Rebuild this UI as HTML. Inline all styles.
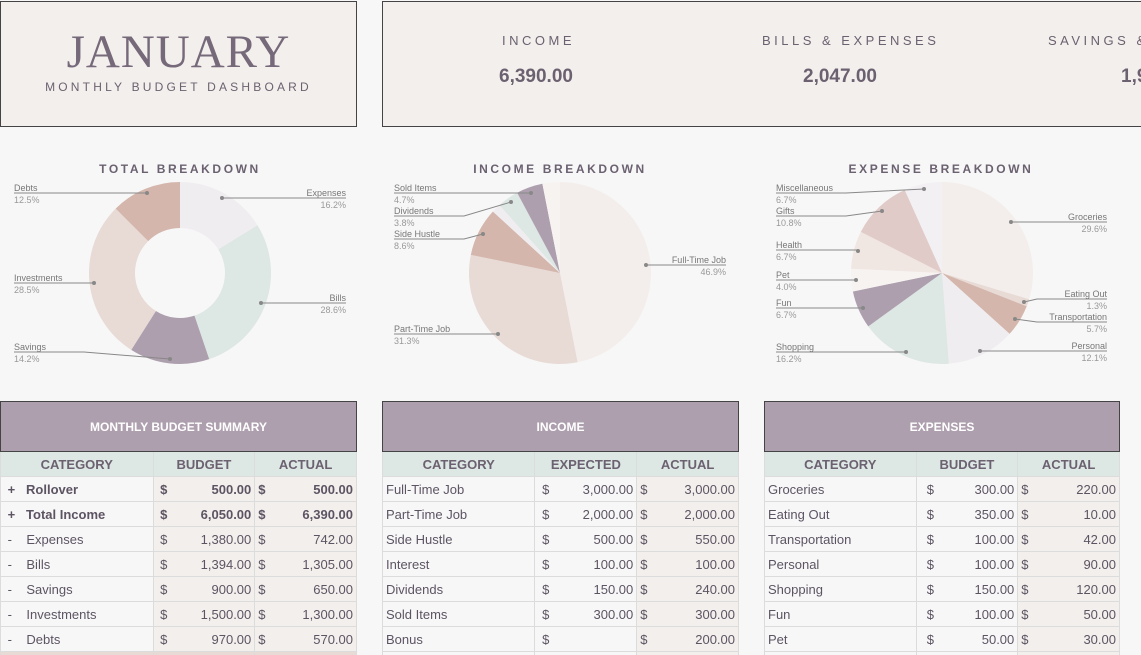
<!DOCTYPE html>
<html><head><meta charset="utf-8">
<style>
*{box-sizing:border-box;margin:0;padding:0}
html,body{overflow:hidden}
body{width:1141px;height:655px;background:#f7f7f7;font-family:"Liberation Sans",sans-serif;position:relative;overflow:hidden;color:#6b6170}
.box{position:absolute;background:#f3efec;border:1px solid #444}
.t{position:absolute;white-space:nowrap}
.lab{font-size:13px;letter-spacing:3.5px;color:#6b6170}
.val{font-size:19px;font-weight:bold;color:#6b6170}
.ttl{position:absolute;font-size:12px;font-weight:bold;letter-spacing:2.6px;color:#6b6170;text-align:center}
table{position:absolute;border-collapse:collapse;font-size:13px;color:#5d5463}
td{height:25px;border:1px solid #dcdcdc;padding:0 3px}
.hd td{background:#ae9fae;color:#fff;font-weight:bold;text-align:center;height:50px;border:1px solid #444;font-size:12px}
.ch td{background:#dde7e3;font-weight:bold;text-align:center;color:#6b6170}
.tin{background:#f3efec}
.d{display:flex;justify-content:space-between}
.wrap{position:absolute;border-left:1px solid #444;border-right:1px solid #444}
#clip{position:absolute;left:0;top:0;width:1141px;height:655px;overflow:hidden}
</style></head><body><div id="clip">
<div class="box" style="left:0;top:1px;width:357px;height:126px"></div>
<div class="t" style="left:0;width:357px;top:25px;text-align:center;font-family:'Liberation Serif',serif;font-size:47px;color:#75697a;letter-spacing:1px">JANUARY</div>
<div class="t lab" style="left:0;width:357px;top:80px;text-align:center;font-size:12px;letter-spacing:3.2px">MONTHLY BUDGET DASHBOARD</div>
<div class="box" style="left:382px;top:1px;width:764px;height:126px"></div>
<div class="t lab" style="left:502px;top:33px">INCOME</div>
<div class="t val" style="left:499px;top:66px">6,390.00</div>
<div class="t lab" style="left:762px;top:33px">BILLS &amp; EXPENSES</div>
<div class="t val" style="left:803px;top:66px">2,047.00</div>
<div class="t lab" style="left:1048px;top:33px">SAVINGS &amp;</div>
<div class="t val" style="left:1121px;top:66px">1,9</div>

<div class="ttl" style="left:0;width:360px;top:162px">TOTAL BREAKDOWN</div>
<div class="ttl" style="left:380px;width:360px;top:162px">INCOME BREAKDOWN</div>
<div class="ttl" style="left:760px;width:362px;top:162px">EXPENSE BREAKDOWN</div>

<svg id="s" width="1141" height="400" style="position:absolute;left:0;top:0" font-family="Liberation Sans, sans-serif" font-size="9" fill="#888"></svg>

<div class="wrap" style="left:0;top:401px;width:357px;height:260px"></div>
<table style="left:0;top:401px;width:357px">
<colgroup><col style="width:153px"><col style="width:102px"><col style="width:102px"></colgroup>
<tr class="hd"><td colspan="3">MONTHLY BUDGET SUMMARY</td></tr>
<tr class="ch"><td>CATEGORY</td><td>BUDGET</td><td>ACTUAL</td></tr>
<tr style="font-weight:bold"><td>&nbsp;+&nbsp;&nbsp;&nbsp;Rollover</td><td class="tin"><div class="d"><span>&nbsp;$</span><span>500.00</span></div></td><td class="tin"><div class="d"><span>$</span><span>500.00</span></div></td></tr>
<tr style="font-weight:bold"><td>&nbsp;+&nbsp;&nbsp;&nbsp;Total Income</td><td class="tin"><div class="d"><span>&nbsp;$</span><span>6,050.00</span></div></td><td class="tin"><div class="d"><span>$</span><span>6,390.00</span></div></td></tr>
<tr><td>&nbsp;-&nbsp;&nbsp;&nbsp;&nbsp;Expenses</td><td class="tin"><div class="d"><span>&nbsp;$</span><span>1,380.00</span></div></td><td class="tin"><div class="d"><span>$</span><span>742.00</span></div></td></tr>
<tr><td>&nbsp;-&nbsp;&nbsp;&nbsp;&nbsp;Bills</td><td class="tin"><div class="d"><span>&nbsp;$</span><span>1,394.00</span></div></td><td class="tin"><div class="d"><span>$</span><span>1,305.00</span></div></td></tr>
<tr><td>&nbsp;-&nbsp;&nbsp;&nbsp;&nbsp;Savings</td><td class="tin"><div class="d"><span>&nbsp;$</span><span>900.00</span></div></td><td class="tin"><div class="d"><span>$</span><span>650.00</span></div></td></tr>
<tr><td>&nbsp;-&nbsp;&nbsp;&nbsp;&nbsp;Investments</td><td class="tin"><div class="d"><span>&nbsp;$</span><span>1,500.00</span></div></td><td class="tin"><div class="d"><span>$</span><span>1,300.00</span></div></td></tr>
<tr><td>&nbsp;-&nbsp;&nbsp;&nbsp;&nbsp;Debts</td><td class="tin"><div class="d"><span>&nbsp;$</span><span>970.00</span></div></td><td class="tin"><div class="d"><span>$</span><span>570.00</span></div></td></tr>
<tr><td style="background:#e8dad5"></td><td style="background:#e8dad5"></td><td style="background:#e8dad5"></td></tr>
</table>

<div class="wrap" style="left:382px;top:401px;width:357px;height:260px"></div>
<table style="left:382px;top:401px;width:357px">
<colgroup><col style="width:153px"><col style="width:102px"><col style="width:102px"></colgroup>
<tr class="hd"><td colspan="3">INCOME</td></tr>
<tr class="ch"><td>CATEGORY</td><td>EXPECTED</td><td>ACTUAL</td></tr>
<tr><td>Full-Time Job</td><td><div class="d"><span>&nbsp;$</span><span>3,000.00</span></div></td><td class="tin"><div class="d"><span>$</span><span>3,000.00</span></div></td></tr>
<tr><td>Part-Time Job</td><td><div class="d"><span>&nbsp;$</span><span>2,000.00</span></div></td><td class="tin"><div class="d"><span>$</span><span>2,000.00</span></div></td></tr>
<tr><td>Side Hustle</td><td><div class="d"><span>&nbsp;$</span><span>500.00</span></div></td><td class="tin"><div class="d"><span>$</span><span>550.00</span></div></td></tr>
<tr><td>Interest</td><td><div class="d"><span>&nbsp;$</span><span>100.00</span></div></td><td class="tin"><div class="d"><span>$</span><span>100.00</span></div></td></tr>
<tr><td>Dividends</td><td><div class="d"><span>&nbsp;$</span><span>150.00</span></div></td><td class="tin"><div class="d"><span>$</span><span>240.00</span></div></td></tr>
<tr><td>Sold Items</td><td><div class="d"><span>&nbsp;$</span><span>300.00</span></div></td><td class="tin"><div class="d"><span>$</span><span>300.00</span></div></td></tr>
<tr><td>Bonus</td><td><div class="d"><span>&nbsp;$</span><span></span></div></td><td class="tin"><div class="d"><span>$</span><span>200.00</span></div></td></tr>
<tr><td></td><td></td><td class="tin"></td></tr>
</table>

<div class="wrap" style="left:764px;top:401px;width:356px;height:260px"></div>
<table style="left:764px;top:401px;width:356px">
<colgroup><col style="width:152px"><col style="width:102px"><col style="width:102px"></colgroup>
<tr class="hd"><td colspan="3">EXPENSES</td></tr>
<tr class="ch"><td>CATEGORY</td><td>BUDGET</td><td>ACTUAL</td></tr>
<tr><td>Groceries</td><td><div class="d"><span>&nbsp;&nbsp;$</span><span>300.00</span></div></td><td class="tin"><div class="d"><span>$</span><span>220.00</span></div></td></tr>
<tr><td>Eating Out</td><td><div class="d"><span>&nbsp;&nbsp;$</span><span>350.00</span></div></td><td class="tin"><div class="d"><span>$</span><span>10.00</span></div></td></tr>
<tr><td>Transportation</td><td><div class="d"><span>&nbsp;&nbsp;$</span><span>100.00</span></div></td><td class="tin"><div class="d"><span>$</span><span>42.00</span></div></td></tr>
<tr><td>Personal</td><td><div class="d"><span>&nbsp;&nbsp;$</span><span>100.00</span></div></td><td class="tin"><div class="d"><span>$</span><span>90.00</span></div></td></tr>
<tr><td>Shopping</td><td><div class="d"><span>&nbsp;&nbsp;$</span><span>150.00</span></div></td><td class="tin"><div class="d"><span>$</span><span>120.00</span></div></td></tr>
<tr><td>Fun</td><td><div class="d"><span>&nbsp;&nbsp;$</span><span>100.00</span></div></td><td class="tin"><div class="d"><span>$</span><span>50.00</span></div></td></tr>
<tr><td>Pet</td><td><div class="d"><span>&nbsp;&nbsp;$</span><span>50.00</span></div></td><td class="tin"><div class="d"><span>$</span><span>30.00</span></div></td></tr>
<tr><td></td><td></td><td class="tin"></td></tr>
</table>
</div>
<script>
var s=document.getElementById('s'),h='';
function pie(cx,cy,r,ri,d){var a=0,t=d.reduce(function(x,y){return x+y[0]},0);
d.forEach(function(p){var a0=a/t*2*Math.PI,a1=(a+p[0])/t*2*Math.PI;a+=p[0];
var x0=cx+r*Math.sin(a0),y0=cy-r*Math.cos(a0),x1=cx+r*Math.sin(a1),y1=cy-r*Math.cos(a1),L=(a1-a0)>Math.PI?1:0;
var path='M'+(cx+ri*Math.sin(a0))+' '+(cy-ri*Math.cos(a0))+'L'+x0+' '+y0+'A'+r+' '+r+' 0 '+L+' 1 '+x1+' '+y1;
if(ri>0)path+='L'+(cx+ri*Math.sin(a1))+' '+(cy-ri*Math.cos(a1))+'A'+ri+' '+ri+' 0 '+L+' 0 '+(cx+ri*Math.sin(a0))+' '+(cy-ri*Math.cos(a0));
path+='Z';h+='<path d="'+path+'" fill="'+p[1]+'"/>';});}
pie(180,273,91,45,[[16.2,'#f0edf0'],[28.6,'#dde7e3'],[14.2,'#ad9fae'],[28.5,'#e8dad5'],[12.5,'#d4b6ac']]);
pie(560,273,91,0,[[46.9,'#f3eeeb'],[31.3,'#e8dad5'],[8.6,'#d4b6ac'],[1.6,'#f0edf0'],[3.8,'#dde7e3'],[4.7,'#ad9fae'],[3.1,'#f7f3f1']]);
pie(942,273,91,0,[[29.6,'#f3eeeb'],[1.3,'#e8dad5'],[5.7,'#d4b6ac'],[12.1,'#f0edf0'],[16.2,'#dde7e3'],[6.7,'#ad9fae'],[4.0,'#f7f3f1'],[6.7,'#f0e6e2'],[10.8,'#e0cbc8'],[6.7,'#f3f0f3']]);
function lab(side,x,y,name,pct,px,py,x2){
 var anc=side=='L'?'start':'end';
 var ex=side=='L'?x+(x2||0):x-(x2||0);
 h+='<path d="M'+x+' '+y+'L'+ex+' '+y+'L'+px+' '+py+'" stroke="#888" fill="none"/><circle cx="'+px+'" cy="'+py+'" r="2" fill="#888"/>';
 h+='<text x="'+x+'" y="'+(y-2)+'" text-anchor="'+anc+'" fill="#777">'+name+'</text><text x="'+x+'" y="'+(y+10)+'" text-anchor="'+anc+'" fill="#999">'+pct+'</text>';}
lab('L',14,193,'Debts','12.5%',147,193,130);
lab('R',346,198,'Expenses','16.2%',222,198,120);
lab('L',14,283,'Investments','28.5%',94,283,75);
lab('R',346,303,'Bills','28.6%',261,303,80);
lab('L',14,352,'Savings','14.2%',170,359,70);
lab('L',394,193,'Sold Items','4.7%',531,193,130);
lab('L',394,216,'Dividends','3.8%',511,202,70);
lab('L',394,239,'Side Hustle','8.6%',483,234,70);
lab('R',726,265,'Full-Time Job','46.9%',646,265,75);
lab('L',394,334,'Part-Time Job','31.3%',498,334,100);
lab('L',776,193,'Miscellaneous','6.7%',924,189,70);
lab('L',776,216,'Gifts','10.8%',882,211,70);
lab('L',776,250,'Health','6.7%',858,251,80);
lab('L',776,280,'Pet','4.0%',856,280,80);
lab('L',776,308,'Fun','6.7%',863,308,85);
lab('R',1107,222,'Groceries','29.6%',1011,222,96);
lab('R',1107,299,'Eating Out','1.3%',1024,302,70);
lab('R',1107,322,'Transportation','5.7%',1015,319,70);
lab('R',1107,351,'Personal','12.1%',980,351,127);
lab('L',776,352,'Shopping','16.2%',906,352,130);
s.innerHTML=h;
</script>
</body></html>
